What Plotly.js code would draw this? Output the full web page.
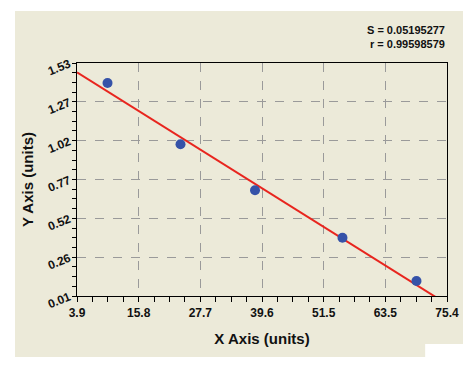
<!DOCTYPE html>
<html>
<head>
<meta charset="utf-8">
<script src="https://cdn.plot.ly/plotly-3.0.1.min.js"></script>
<style>html,body{margin:0;padding:0;background:#fff;}#chart{width:470px;height:368px;}</style>
</head>
<body>
<div id="chart"></div>
<script>
// Data
const xValues = [9.8, 23.9, 38.3, 55.2, 69.5];
const yValues = [1.40, 1.00, 0.70, 0.39, 0.108];

const xTickVals = [3.9, 15.817, 27.733, 39.65, 51.567, 63.483, 75.4];
const xTickText = ['3.9', '15.8', '27.7', '39.6', '51.5', '63.5', '75.4'];
const yTickVals = [0.01, 0.2633, 0.5167, 0.77, 1.0233, 1.2767, 1.53];
const yTickText = ['0.01', '0.26', '0.52', '0.77', '1.02', '1.27', '1.53'];

const statS = 'S = 0.05195277';
const statR = 'r = 0.99598579';

// least-squares fit of the data
const n = xValues.length;
const mx = xValues.reduce((a, b) => a + b, 0) / n;
const my = yValues.reduce((a, b) => a + b, 0) / n;
let sxy = 0, sxx = 0;
for (let i = 0; i < n; i++) { sxy += (xValues[i] - mx) * (yValues[i] - my); sxx += (xValues[i] - mx) ** 2; }
const slope = sxy / sxx;
const intercept = my - slope * mx;
const fitX = [xTickVals[0], xTickVals[xTickVals.length - 1]];
const fitY = fitX.map(x => intercept + slope * x);

const xRange = [xTickVals[0], xTickVals[xTickVals.length - 1]];
const yRange = [yTickVals[0], yTickVals[yTickVals.length - 1]];

const fontFam = '"Liberation Sans", Arial, sans-serif';
const tickFont = { family: fontFam, size: 12, color: '#111', weight: 'bold' };

const traces = [
  { x: fitX, y: fitY, mode: 'lines', line: { color: '#e8251e', width: 2 }, hoverinfo: 'skip' },
  { x: xValues, y: yValues, mode: 'markers', marker: { color: '#3552a8', size: 10 }, hoverinfo: 'skip' }
];

const layout = {
  width: 470, height: 368,
  paper_bgcolor: '#ffffff', plot_bgcolor: '#ffffff',
  margin: { l: 77, r: 23, t: 63, b: 72 },
  showlegend: false,
  xaxis: {
    range: xRange, tickmode: 'array', tickvals: xTickVals, ticktext: xTickText,
    showline: true, mirror: true, linecolor: '#000', linewidth: 1.3,
    ticks: 'outside', ticklen: 5, tickcolor: '#000', tickwidth: 1,
    showgrid: true, gridcolor: '#9a9a9a', griddash: 'dash', gridwidth: 1, zeroline: false,
    tickfont: tickFont,
    title: { text: 'X Axis (units)', font: { family: fontFam, size: 15, color: '#111', weight: 'bold' }, standoff: 14 }
  },
  yaxis: {
    range: yRange, tickmode: 'array', tickvals: yTickVals, ticktext: yTickText, tickangle: -22,
    showline: true, mirror: true, linecolor: '#000', linewidth: 1.3,
    ticks: 'outside', ticklen: 4, tickcolor: '#000', tickwidth: 1,
    showgrid: true, gridcolor: '#9a9a9a', griddash: 'dash', gridwidth: 1, zeroline: false,
    tickfont: tickFont,
    title: { text: 'Y Axis (units)', font: { family: fontFam, size: 15, color: '#111', weight: 'bold' }, standoff: 8 }
  },
  // overlay axes carrying the minor ticks only
  xaxis2: {
    overlaying: 'x', anchor: 'y', side: 'bottom', range: xRange,
    tickmode: 'linear', tick0: xRange[0], dtick: (xRange[1] - xRange[0]) / 24,
    ticks: 'outside', ticklen: 5, tickcolor: '#000', tickwidth: 1,
    showticklabels: false, showgrid: false, zeroline: false, showline: false
  },
  yaxis2: {
    overlaying: 'y', anchor: 'x', side: 'left', range: yRange,
    tickmode: 'linear', tick0: yRange[0], dtick: (yRange[1] - yRange[0]) / 24,
    ticks: 'outside', ticklen: 4, tickcolor: '#000', tickwidth: 1,
    showticklabels: false, showgrid: false, zeroline: false, showline: false
  },
  shapes: [
    { type: 'rect', xref: 'paper', yref: 'paper', x0: -0.1676, x1: 1.0432, y0: -0.2618, y1: 1.2232,
      fillcolor: '#ecead9', line: { width: 0 }, layer: 'below' },
    { type: 'rect', xref: 'paper', yref: 'paper', x0: 0.941, x1: 1.0432, y0: -0.2618, y1: -0.206,
      fillcolor: '#ffffff', line: { width: 0 }, layer: 'below' }
  ],
  annotations: [
    { xref: 'paper', yref: 'paper', x: 1, y: 1.1416, xanchor: 'right', yanchor: 'middle', showarrow: false,
      text: statS, font: { family: fontFam, size: 11, color: '#111', weight: 'bold' } },
    { xref: 'paper', yref: 'paper', x: 1, y: 1.0815, xanchor: 'right', yanchor: 'middle', showarrow: false,
      text: statR, font: { family: fontFam, size: 11, color: '#111', weight: 'bold' } }
  ]
};

// dummy trace to activate the minor-tick overlay axes
traces.push({ x: [], y: [], xaxis: 'x2', yaxis: 'y2', mode: 'markers', hoverinfo: 'skip' });

Plotly.newPlot('chart', traces, layout, { displayModeBar: false, staticPlot: true });
</script>
</body>
</html>
